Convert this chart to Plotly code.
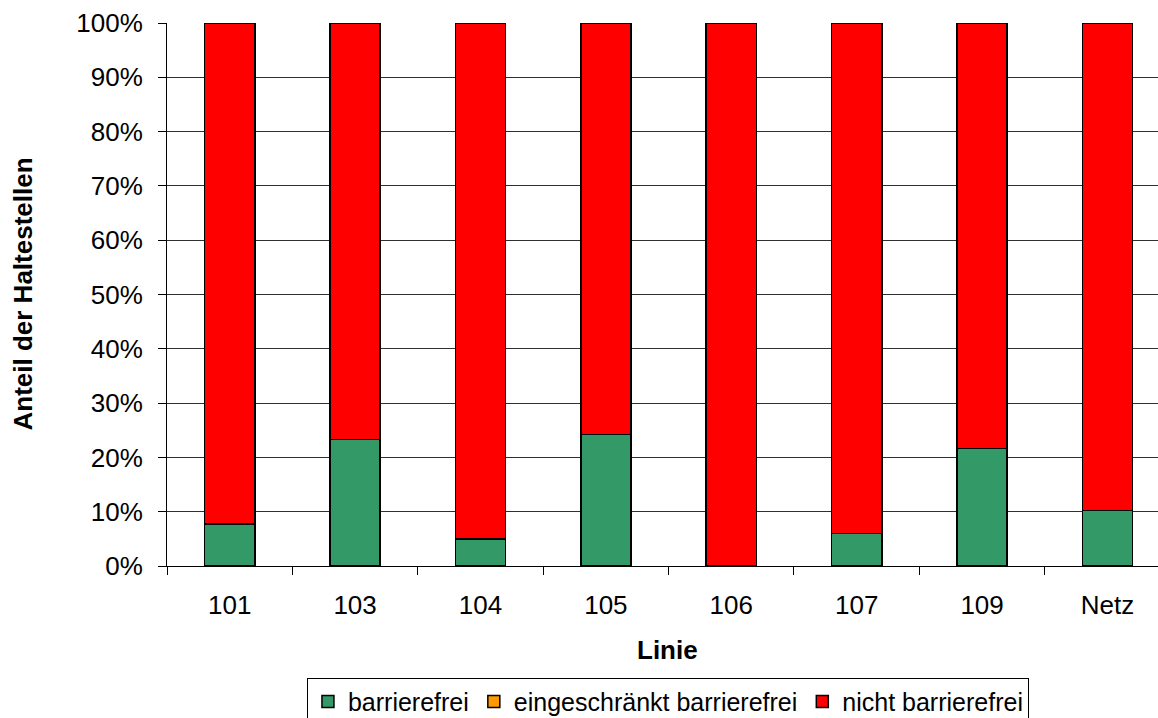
import plotly.graph_objects as go

# Barrier-free share of stops per line
linien = ["101", "103", "104", "105", "106", "107", "109", "Netz"]
barrierefrei = [7.7, 23.3, 5.0, 24.2, 0.0, 6.0, 21.6, 10.2]
eingeschraenkt = [0.0, 0.0, 0.0, 0.0, 0.0, 0.0, 0.0, 0.0]
nicht_barrierefrei = [100 - a - b for a, b in zip(barrierefrei, eingeschraenkt)]

y_ticks = list(range(0, 101, 10))
y_labels = [f"{v}%" for v in y_ticks]

FONT = "Liberation Sans, Arial, sans-serif"

series = [
    ("barrierefrei", barrierefrei, "#339966"),
    ("eingeschränkt barrierefrei", eingeschraenkt, "#FF9900"),
    ("nicht barrierefrei", nicht_barrierefrei, "#FF0000"),
]

fig = go.Figure()
for name, vals, color in series:
    fig.add_trace(go.Bar(
        x=linien, y=vals, name=name, width=0.4,
        marker=dict(color=color, line=dict(color="black", width=1.5)),
    ))

fig.update_layout(
    barmode="stack",
    width=1158, height=718,
    margin=dict(l=167, r=0, t=23, b=152, autoexpand=False),
    paper_bgcolor="white", plot_bgcolor="white",
    font=dict(family=FONT, size=26, color="black"),
    showlegend=True,
    legend=dict(
        orientation="h", x=0.5055, xanchor="center", y=-0.206, yanchor="top",
        bordercolor="black", borderwidth=1, font=dict(size=25),
        traceorder="normal", itemwidth=30, tracegroupgap=0,
    ),
    xaxis=dict(
        type="category", range=[-0.5, 7.403],
        showline=True, linecolor="black", linewidth=1,
        ticks="outside", ticklen=8, tickcolor="black", tickson="boundaries",
        ticklabelstandoff=16, showgrid=False,
    ),
    yaxis=dict(
        range=[0, 100], tickvals=y_ticks, ticktext=y_labels,
        showline=True, linecolor="black", linewidth=1,
        ticks="outside", ticklen=8, tickcolor="black",
        ticklabelstandoff=10,
        showgrid=True, gridcolor="#303030", gridwidth=1, zeroline=False,
    ),
    annotations=[
        dict(text="<b>Linie</b>", xref="paper", yref="paper", x=0.5055, y=-0.1547,
             xanchor="center", yanchor="middle", showarrow=False, font=dict(size=26)),
        dict(text="<b>Anteil der Haltestellen</b>", xref="paper", yref="paper",
             x=-0.1463, y=0.5, xanchor="center", yanchor="middle", textangle=-90,
             showarrow=False, font=dict(size=26)),
    ],
)

fig.write_html("out.html")
